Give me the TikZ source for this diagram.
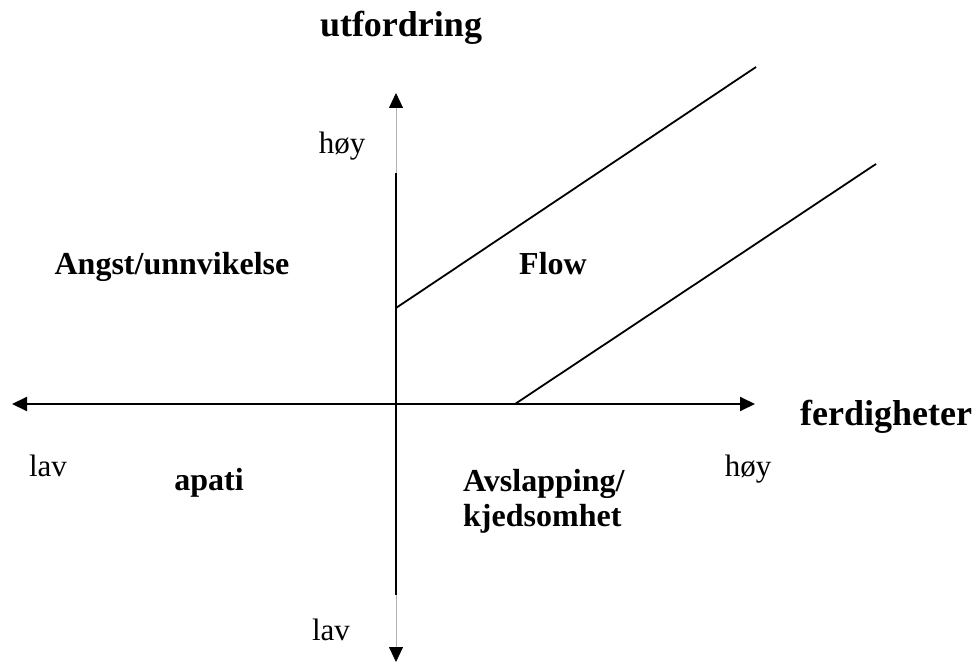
\documentclass[tikz,border=0pt]{standalone}
\usepackage{fontspec}
\setmainfont{Liberation Serif}
\usetikzlibrary{arrows.meta}

\tikzset{
  lbl/.style={anchor=base,inner sep=0pt,font=\fontsize{31}{36}\selectfont},
  zone/.style={lbl,font=\fontsize{32}{35}\selectfont\bfseries},
  axtitle/.style={lbl,font=\fontsize{36}{40}\selectfont\bfseries},
  axis/.style={line width=2pt,black},
  band/.style={line width=1.8pt,black}
}

\begin{document}
\begin{tikzpicture}[x=1pt,y=-1pt,>={Triangle[length=15pt,width=14pt]}]
\useasboundingbox (0,0) rectangle (978,663);
% akser
\coordinate (vtop) at (396,93);
\coordinate (vbot) at (396,662);
\coordinate (vup) at (396,173);
\coordinate (vdown) at (396,595);
\coordinate (hleft) at (12,404);
\coordinate (hright) at (755,404);
\draw[<->,line width=0.8pt,gray!60,arrows={[black]}] (vtop)--(vbot);
\draw[axis] (vup)--(vdown);
\draw[axis,<->] (hleft)--(hright);
% flow-kanal
\coordinate (a1) at (396,308);
\coordinate (a2) at (756,67);
\coordinate (b1) at (515,404);
\coordinate (b2) at (876,164);
\draw[band] (a1)--(a2);
\draw[band] (b1)--(b2);
% tekster
\node[axtitle] (utf) at (401,37) {utfordring};
\node[axtitle] (ferd) at (886,425) {ferdigheter};
\node[lbl] (hoyv) at (342,154) {høy};
\node[lbl] (lavv) at (331,640) {lav};
\node[lbl] (lavh) at (48,476) {lav};
\node[lbl] (hoyh) at (748,476) {høy};
\node[zone] (angst) at (172,275) {Angst/unnvikelse};
\node[zone] (flow) at (553,275) {Flow};
\node[zone] (apati) at (209,490) {apati};
\node[zone,anchor=base west,align=left] (avsl) at (463,526) {Avslapping/\\kjedsomhet};
\end{tikzpicture}
\end{document}
